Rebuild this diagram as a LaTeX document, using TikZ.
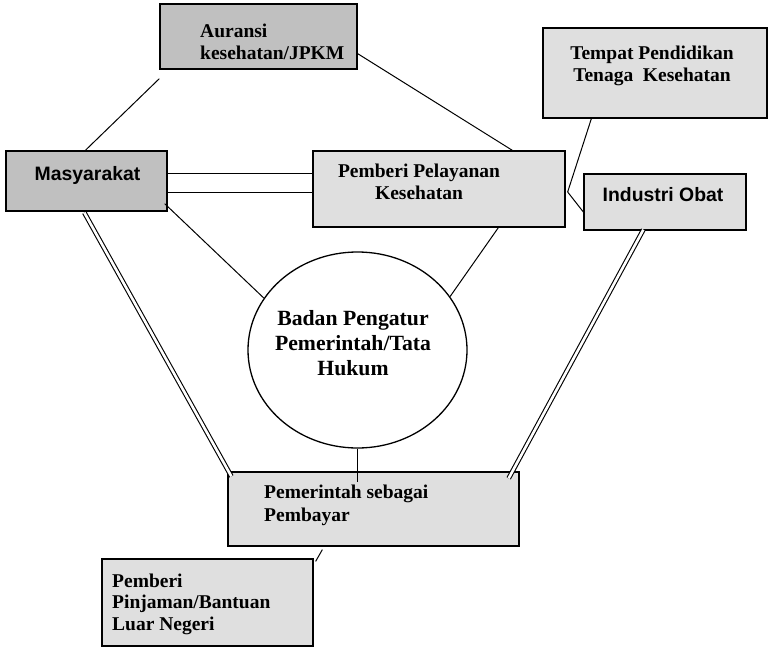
\documentclass[tikz,border=0pt]{standalone}
\usepackage{fontspec}
\setmainfont{Liberation Serif}
\newfontfamily\arialf{Liberation Sans}
\usetikzlibrary{calc,shapes.geometric}
\definecolor{darkbox}{HTML}{C0C0C0}
\definecolor{lightbox}{HTML}{DFDFDF}
\tikzset{
  box/.style={draw=black, line width=1.3pt, rectangle, inner sep=0pt},
  darkfill/.style={box, fill=darkbox},
  lightfill/.style={box, fill=lightbox},
  conn/.style={draw=black, line width=1pt},
  dconn/.style={draw=black, line width=1.1pt, double=white, double distance=2.6pt},
  txt/.style={inner sep=0pt, font=\fontsize{19.5}{22.5}\selectfont\bfseries},
  bigtxt/.style={inner sep=0pt, font=\fontsize{21.7}{25}\selectfont\bfseries},
  sanstxt/.style={inner sep=0pt, font=\fontsize{19.4}{22}\selectfont\arialf\bfseries}
}
\begin{document}
\begin{tikzpicture}[x=1pt,y=-1pt]
\useasboundingbox (0,0) rectangle (768,647);
% boxes
\node[darkfill, minimum width=197pt, minimum height=65pt] (aur) at (258.5,36.5) {};
\node[darkfill, minimum width=161pt, minimum height=60pt] (mas) at (86.5,181) {};
\node[lightfill, minimum width=252pt, minimum height=76pt] (pem) at (439,189) {};
\node[lightfill, minimum width=224pt, minimum height=90pt] (tem) at (655,73) {};
\node[lightfill, minimum width=162pt, minimum height=56pt] (ind) at (665,202) {};
\node[draw=black, line width=1.3pt, ellipse, inner sep=0pt, minimum width=219pt, minimum height=196pt] (bad) at (357.5,350) {};
\node[lightfill, minimum width=291pt, minimum height=74pt] (pay) at (373.5,509) {};
\node[lightfill, minimum width=211pt, minimum height=87pt] (lua) at (207.5,602.5) {};
% labels (base anchor = baseline of last line)
\node[txt, anchor=base west, align=left] (aurt) at (200,60) {Auransi\\kesehatan/JPKM};
\node[sanstxt, anchor=base] (mast) at (87.5,181) {Masyarakat};
\node[txt, anchor=base, align=center] (pemt) at (419,200) {Pemberi Pelayanan\\Kesehatan};
\node[txt, anchor=base, align=center] (temt) at (652,82) {Tempat Pendidikan\\Tenaga\ \ Kesehatan};
\node[sanstxt, anchor=base] (indt) at (663,202) {Industri Obat};
\node[bigtxt, anchor=base, align=center] (badt) at (353,375) {Badan Pengatur\\Pemerintah/Tata\\Hukum};
\node[txt, anchor=base west, align=left] (payt) at (264,521) {Pemerintah sebagai\\Pembayar};
\node[txt, anchor=base west, align=left, font=\fontsize{19.5}{21.5}\selectfont\bfseries] (luat) at (112,630) {Pemberi\\Pinjaman/Bantuan\\Luar Negeri};
% connectors
\draw[conn] ($(aur.south west)+(0,9)$) -- ($(mas.north west)+(80,0)$);
\draw[conn] ($(aur.south east)+(0,-16)$) -- ($(pem.north west)+(200,0)$);
\draw[conn] ($(mas.east)+(0,-7)$) -- ($(pem.west)+(0,-15)$);
\draw[conn] ($(mas.east)+(0,12)$) -- ($(pem.west)+(0,4)$);
\draw[conn] ($(mas.south east)+(-3,-8)$) -- (bad.151);
\draw[conn] ($(pem.south west)+(186,0)$) -- (bad.30);
\draw[conn] ($(tem.south west)+(49,0)$) -- ($(pem.east)+(2,3)$);
\draw[conn] ($(pem.east)+(2,3)$) -- ($(ind.west)+(0,10)$);
\draw[dconn] ($(mas.south west)+(79,1)$) -- ($(pay.north west)+(4,5)$);
\draw[dconn] ($(ind.south west)+(60,-1)$) -- ($(pay.north east)+(-11,7)$);
\draw[conn] (bad.south) -- ($(bad.south |- pay.north)+(0,11)$);
\draw[conn] ($(pay.south west)+(95,3)$) -- ($(lua.north east)+(2,3)$);
\end{tikzpicture}
\end{document}
